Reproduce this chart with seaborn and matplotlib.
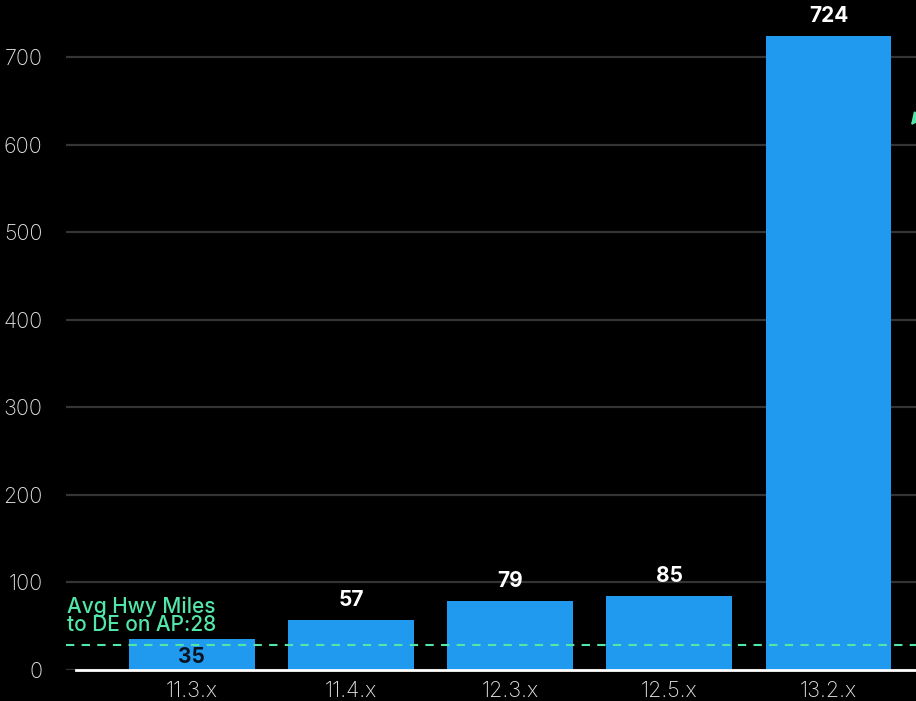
import matplotlib
matplotlib.use("Agg")
import matplotlib.pyplot as plt
import seaborn as sns
import pandas as pd

# data
versions = ["11.3.x", "11.4.x", "12.3.x", "12.5.x", "13.2.x"]
miles = [35, 57, 79, 85, 724]
avg_miles = 28
avg_label = "Avg Hwy Miles\nto DE on AP:28"
y_ticks = [0, 100, 200, 300, 400, 500, 600, 700]

BG = "#000000"
BLUE = "#1f9aef"
GREEN = "#52e6a9"
GRID = "#343434"
TICK = "#e2e2e2"

sns.set_theme(style="dark")
plt.rcParams["font.family"] = ["Inter", "DejaVu Sans"]

df = pd.DataFrame({"version": versions, "miles": miles})

fig = plt.figure(figsize=(9.16, 7.01), dpi=100, facecolor=BG)
ax = fig.add_axes([66 / 916, 31 / 701, 850 / 916, 670 / 701])
ax.set_facecolor(BG)

sns.barplot(data=df, x="version", y="miles", color=BLUE, width=0.79,
            saturation=1, linewidth=0, edgecolor="none", ax=ax, zorder=3)

ax.set_xlim(-0.79, 4.55)
ax.set_ylim(0, 765)
ax.set_yticks(y_ticks)
ax.yaxis.grid(True, color=GRID, linewidth=1.6, zorder=0)
ax.xaxis.grid(False)
ax.set_xlabel("")
ax.set_ylabel("")
ax.tick_params(axis="both", length=0, colors=TICK, labelsize=15.5)
ax.tick_params(axis="y", pad=17)
ax.tick_params(axis="x", pad=8)
for lbl in ax.get_yticklabels() + ax.get_xticklabels():
    lbl.set_fontweight("light")

for s in ["top", "right", "left"]:
    ax.spines[s].set_visible(False)
ax.spines["bottom"].set_color("white")
ax.spines["bottom"].set_linewidth(2)
ax.spines["bottom"].set_bounds(-0.73, 4.55)
ax.spines["bottom"].set_zorder(5)

# value labels
for i, v in enumerate(miles):
    if v < 40:
        ax.text(i, v / 2 - 3, str(v), ha="center", va="center", color="#0b1220",
                fontsize=15, fontweight="bold", zorder=6)
    else:
        ax.text(i, v + 11, str(v), ha="center", va="bottom", color="white",
                fontsize=15, fontweight="bold", zorder=6)

# average line
ax.axhline(avg_miles, color=GREEN, linestyle=(0, (4, 3.5)), linewidth=1.5, zorder=4)
ax.text(-0.785, avg_miles + 12, avg_label, ha="left", va="bottom", color=GREEN,
        fontsize=15, fontweight="medium", linespacing=0.9, zorder=6)

# arrow pointing back at the tallest bar from off the right edge
ax.annotate("", xy=(4.518, 622), xytext=(4.95, 720),
            arrowprops=dict(arrowstyle="-|>", color=GREEN, lw=1.5,
                            mutation_scale=18, shrinkA=0, shrinkB=0),
            annotation_clip=False, zorder=6)

fig.savefig("out.png", dpi=100, facecolor=BG)
